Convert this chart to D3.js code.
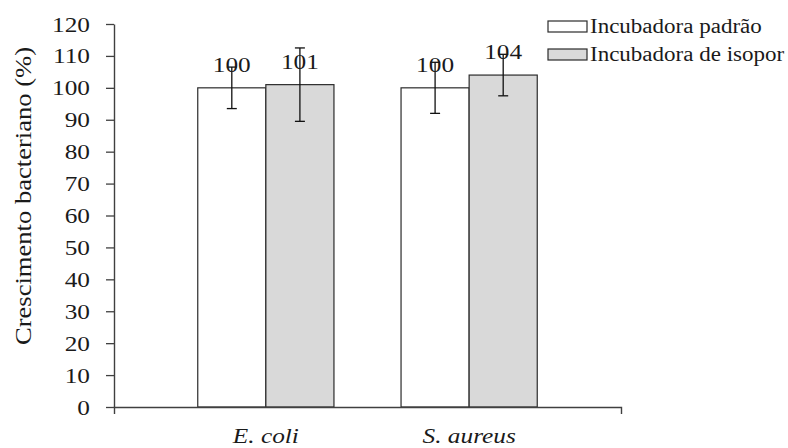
<!DOCTYPE html>
<html>
<head>
<meta charset="utf-8">
<script src="https://cdn.jsdelivr.net/npm/d3@7"></script>
<style>
  body { margin: 0; background: #fff; }
  svg text { font-family: "Liberation Serif", "Times New Roman", serif; fill: #1a1a1a; }
</style>
</head>
<body>
<svg id="chart" width="788" height="448"></svg>
<script>
var categories = ["E. coli", "S. aureus"];
var seriesNames = ["Incubadora padrão", "Incubadora de isopor"];
var padrao = [100, 100];
var isopor = [101, 104];
var padraoErr = [6.5, 8];
var isoporErr = [11.5, 6.5];
var yTicks = [0, 10, 20, 30, 40, 50, 60, 70, 80, 90, 100, 110, 120];

var seriesFill = ["#ffffff", "#d9d9d9"];
var axisColor = "#404040";
var stretch = 1.15;

var svg = d3.select("#chart");

var y = d3.scaleLinear()
    .domain([0, 120])
    .range([407, 24]);

var x0 = d3.scaleBand()
    .domain(categories)
    .range([114, 621])
    .paddingInner(0.33)
    .paddingOuter(0.412);

var x1 = d3.scaleBand()
    .domain(seriesNames)
    .range([0, x0.bandwidth()]);

var rows = categories.map(function (c, i) {
    return [
        {cat: c, s: seriesNames[0], value: padrao[i], err: padraoErr[i], fill: seriesFill[0]},
        {cat: c, s: seriesNames[1], value: isopor[i], err: isoporErr[i], fill: seriesFill[1]}
    ];
});

var groups = svg.selectAll("g.group")
    .data(rows)
    .enter()
    .append("g")
    .attr("class", "group")
    .attr("transform", function (d) { return "translate(" + x0(d[0].cat) + ",0)"; });

var bar = groups.selectAll("g.bar")
    .data(function (d) { return d; })
    .enter()
    .append("g")
    .attr("class", "bar");

bar.append("rect")
    .attr("x", function (d) { return x1(d.s); })
    .attr("y", function (d) { return y(d.value); })
    .attr("width", x1.bandwidth())
    .attr("height", function (d) { return y(0) - y(d.value); })
    .attr("fill", function (d) { return d.fill; })
    .attr("stroke", "#2b2b2b")
    .attr("stroke-width", 1.2);

// error bars
function cx(d) { return x1(d.s) + x1.bandwidth() / 2; }
bar.append("line")
    .attr("x1", cx).attr("x2", cx)
    .attr("y1", function (d) { return y(d.value + d.err); })
    .attr("y2", function (d) { return y(d.value - d.err); })
    .attr("stroke", "#111").attr("stroke-width", 1.3);
bar.selectAll("line.cap")
    .data(function (d) { return [d.value + d.err, d.value - d.err].map(function (v) { return {d: d, v: v}; }); })
    .enter()
    .append("line")
    .attr("class", "cap")
    .attr("x1", function (e) { return cx(e.d) - 5; })
    .attr("x2", function (e) { return cx(e.d) + 5; })
    .attr("y1", function (e) { return y(e.v); })
    .attr("y2", function (e) { return y(e.v); })
    .attr("stroke", "#111").attr("stroke-width", 1.3);

// value labels
bar.append("text")
    .attr("class", "stretch")
    .attr("x", cx)
    .attr("y", function (d) { return y(d.value) - 16; })
    .attr("text-anchor", "middle")
    .style("font-size", "22px")
    .text(function (d) { return d.value; });

// y axis
var yAxis = svg.append("g")
    .attr("transform", "translate(114,0)")
    .call(d3.axisLeft(y).tickValues(yTicks).tickSize(8).tickSizeOuter(0).tickPadding(16));
yAxis.select(".domain").attr("stroke", axisColor).attr("stroke-width", 1.4);
yAxis.selectAll(".tick line").attr("stroke", axisColor).attr("stroke-width", 1.3);
yAxis.selectAll(".tick text")
    .attr("class", "stretch")
    .attr("fill", "#1a1a1a")
    .style("font-family", "'Liberation Serif', serif")
    .style("font-size", "22px");

// x axis
var xAxis = svg.append("g")
    .attr("transform", "translate(0,407)")
    .call(d3.axisBottom(x0).tickSizeInner(0).tickSizeOuter(7).tickPadding(20));
xAxis.select(".domain").attr("stroke", axisColor).attr("stroke-width", 1.4);
xAxis.selectAll(".tick text")
    .attr("class", "stretch")
    .attr("fill", "#1a1a1a")
    .style("font-family", "'Liberation Serif', serif")
    .style("font-style", "italic")
    .style("font-size", "22px");

// y axis title
svg.append("text")
    .attr("transform", "translate(31,196) rotate(-90)")
    .attr("text-anchor", "middle")
    .attr("textLength", 298)
    .attr("lengthAdjust", "spacingAndGlyphs")
    .style("font-size", "24px")
    .text("Crescimento bacteriano (%)");

// legend
var legend = svg.selectAll("g.legend")
    .data(seriesNames)
    .enter()
    .append("g")
    .attr("class", "legend")
    .attr("transform", function (d, i) { return "translate(548," + (21 + i * 28) + ")"; });
legend.append("rect")
    .attr("width", 39)
    .attr("height", 11)
    .attr("fill", function (d, i) { return seriesFill[i]; })
    .attr("stroke", "#2b2b2b")
    .attr("stroke-width", 1.2);
legend.append("text")
    .attr("class", "stretch")
    .attr("x", 42)
    .attr("y", 11.5)
    .style("font-size", "20px")
    .text(function (d) { return d; });

// the source picture is a little wider than its fonts
svg.selectAll("text.stretch").each(function () {
    var w = this.getComputedTextLength();
    d3.select(this)
        .attr("textLength", w * stretch)
        .attr("lengthAdjust", "spacingAndGlyphs");
});
</script>
</body>
</html>
